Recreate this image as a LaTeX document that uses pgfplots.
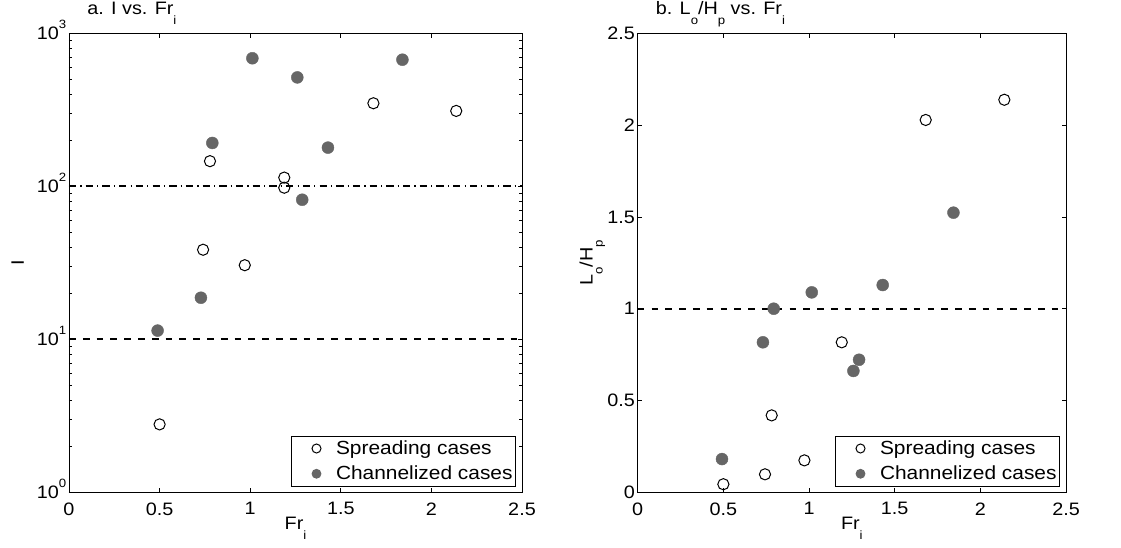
\documentclass[border=0pt]{standalone}
\usepackage{fontspec}
\setmainfont{Liberation Sans}[FakeStretch=1.1]
\usepackage{pgfplots}
\pgfplotsset{compat=1.18}
\definecolor{mg}{RGB}{102,102,102}
\newcommand\sub[1]{\raisebox{-10pt}[0pt][0pt]{\fontsize{12}{12}\selectfont #1}}
\newcommand\sups[1]{\raisebox{11pt}[0pt][0pt]{\fontsize{12}{12}\selectfont #1}}
\newcommand\fs{\fontsize{18}{21}\selectfont}
\pgfplotsset{
  myaxis/.style={
    scale only axis, anchor=south west, height=459pt,
    xmin=0, xmax=2.5, xtick={0,0.5,1,1.5,2,2.5},
    /pgf/number format/assume math mode=true,
    tick align=inside, tick pos=both,
    major tick length=4.5pt, minor tick length=3pt,
    axis line style={line width=0.9pt}, tick style={line width=0.7pt, black},
    ticklabel style={font=\fs},
    xticklabel style={inner sep=0pt, anchor=north, yshift=-10pt},
    yticklabel style={inner sep=0pt, anchor=east, xshift=-2.5pt},
    xlabel={Fr\sub{i}},
    xlabel style={font=\fs, at={(axis description cs:0.5,0)}, anchor=north, inner sep=0pt, yshift=-25pt},
    title style={font=\fs, anchor=base west, inner sep=0pt, yshift=12.6pt},
    legend style={at={(axis description cs:1,0)}, anchor=south east, xshift=-6pt, yshift=6pt,
      draw=black, line width=0.8pt, fill=white, font=\fontsize{19}{22}\selectfont,
      inner xsep=21pt, inner ysep=4.5pt, row sep=10pt, column sep=15pt,
      nodes={inner sep=0pt}, cells={anchor=west}},
    legend image code/.code={\draw[##1, mark size=4.5pt] plot coordinates {(0pt,0pt)};},
  },
  openm/.style={only marks, mark=o, mark size=5.6pt, line width=1pt, black},
  fillm/.style={only marks, mark=*, mark size=6pt, mg, draw=mg},
  dashm/.style={black, line width=1.7pt, dash pattern=on 6.7pt off 7.1pt, forget plot},
  dashdotm/.style={black, line width=1.7pt, dash pattern=on 7.3pt off 4.1pt on 1.2pt off 4.1pt, forget plot},
}
\begin{document}
\begin{tikzpicture}
\useasboundingbox (0,0) rectangle (1121pt,547pt);
\begin{axis}[myaxis,
  at={(69pt,54.7pt)}, width=453pt,
  ymode=log, ymin=1, ymax=1000, ytick={1,10,100,1000},
  yticklabels={10\sups{0},10\sups{1},10\sups{2},10\sups{3}},
  ylabel={I},
  ylabel style={font=\fs, at={(axis description cs:-0.113,0.5)}, anchor=center, inner sep=0pt},
  title={a. I vs. Fr\sub{i}},
  title style={at={(axis description cs:0.04,1)}},
]
\addplot[dashm] coordinates {(0,10) (2.5,10)};
\addplot[dashdotm] coordinates {(0,100) (2.5,100)};
\addplot[openm] coordinates {
(0.50,2.78) (0.74,38.5) (0.97,30.5) (0.778,146) (1.188,114) (1.188,97.9) (1.68,349) (2.137,311)};
\addlegendentry{Spreading cases\hspace*{-18pt}}
\addplot[fillm] coordinates {
(0.489,11.4) (0.728,18.7) (0.791,192) (1.012,687) (1.26,515) (1.287,81.7) (1.429,179) (1.84,672)};
\addlegendentry{Channelized cases\hspace*{-18pt}}
\end{axis}
\begin{axis}[myaxis,
  at={(637.7pt,54.7pt)}, width=428.3pt,
  ymin=0, ymax=2.5, ytick={0,0.5,1,1.5,2,2.5},
  ylabel={L\sub{o}/H\sub{p}},
  ylabel style={font=\fs, at={(axis description cs:-0.12,0.5)}, anchor=center, inner sep=0pt},
  title={b. L\sub{o}/H\sub{p} vs. Fr\sub{i}},
  title style={at={(axis description cs:0.042,1)}},
]
\addplot[dashm] coordinates {(0,1) (2.5,1)};
\addplot[openm] coordinates {
(0.50,0.044) (0.743,0.098) (0.973,0.174) (0.782,0.419) (1.191,0.214) (1.191,0.817) (1.681,2.028) (2.14,2.138)};
\addlegendentry{Spreading cases\hspace*{-18pt}}
\addplot[fillm] coordinates {
(0.492,0.181) (0.731,0.817) (0.794,1.0) (1.016,1.089) (1.259,0.661) (1.292,0.722) (1.430,1.129) (1.843,1.523)};
\addlegendentry{Channelized cases\hspace*{-18pt}}
\end{axis}
\end{tikzpicture}
\end{document}
